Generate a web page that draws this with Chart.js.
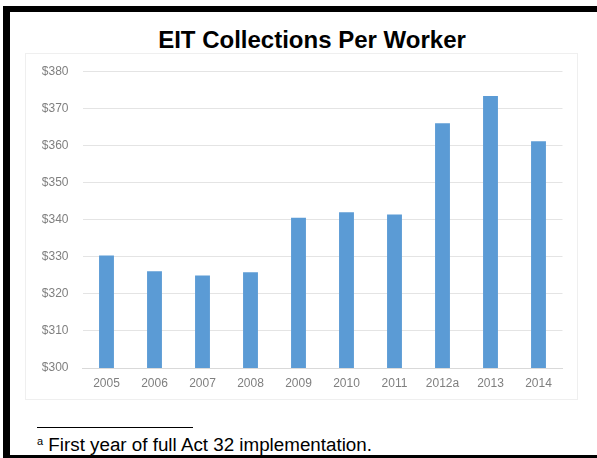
<!DOCTYPE html>
<html>
<head>
<meta charset="utf-8">
<script src="https://cdn.jsdelivr.net/npm/chart.js@4/dist/chart.umd.min.js"></script>
<style>
  html, body { margin: 0; padding: 0; background: #fff; width: 597px; height: 458px; overflow: hidden; }
  body { position: relative; font-family: "Liberation Sans", Arial, sans-serif; }
  #frame {
    position: absolute; left: 3px; top: 6px; width: 594px; height: 452px;
    box-sizing: border-box; border-top: 6px solid #000; border-left: 7px solid #000; border-bottom: 3px solid #000;
    border-right: none;
  }
  #title {
    position: absolute; left: 112px; top: 26px; width: 400px; text-align: center;
    font-size: 24px; line-height: 28px; font-weight: bold; color: #000; white-space: nowrap;
  }
  #box { position: absolute; left: 25px; top: 53px; width: 551px; height: 345px; border: 1px solid #efefef; }
  #wrap { position: absolute; left: 25px; top: 50px; width: 552px; height: 349px; }
  #rule { position: absolute; left: 37px; top: 427px; width: 156px; border-top: 1px solid #000; }
  #note { position: absolute; left: 37px; top: 431px; font-size: 18.8px; line-height: 20px; color: #000; white-space: nowrap; }
  #note sup { font-size: 11px; vertical-align: 6px; }
</style>
</head>
<body>
<div id="frame"></div>
<div id="title">EIT Collections Per Worker</div>
<div id="box"></div>
<div id="wrap"><canvas id="chart"></canvas></div>
<div id="rule"></div>
<div id="note"><sup>a</sup> First year of full Act 32 implementation.</div>
<script>
const years = ["2005", "2006", "2007", "2008", "2009", "2010", "2011", "2012a", "2013", "2014"];
const perWorker = [330.3, 326.1, 324.9, 325.8, 340.5, 342.0, 341.4, 366.0, 373.3, 361.1];
const yMin = 300;
const yMax = 380;
const yStep = 10;

const tickFont = { family: "'Liberation Sans', Arial, sans-serif", size: 12 };

new Chart(document.getElementById("chart"), {
  type: "bar",
  data: {
    labels: years,
    datasets: [{
      label: "EIT Collections Per Worker",
      data: perWorker,
      backgroundColor: "#5b9bd5",
      barPercentage: 0.31,
      categoryPercentage: 1
    }]
  },
  options: {
    responsive: true,
    maintainAspectRatio: false,
    animation: false,
    layout: { padding: { left: 0, right: 14.5, top: 14, bottom: 9 } },
    plugins: {
      legend: { display: false },
      tooltip: { enabled: false }
    },
    scales: {
      x: {
        grid: { display: false, drawTicks: false },
        border: { display: true, color: "#d9d9d9" },
        ticks: { color: "#7f7f7f", font: tickFont, padding: 8, maxRotation: 0 },
        afterFit: (scale) => { scale.height = 22; }
      },
      y: {
        min: yMin,
        max: yMax,
        grid: { color: "#e4e4e4", drawTicks: false },
        border: { display: false },
        ticks: {
          stepSize: yStep,
          color: "#7f7f7f",
          font: tickFont,
          padding: 14,
          callback: (v) => "$" + v
        },
        afterFit: (scale) => { scale.width = 57.5; }
      }
    }
  }
});
</script>
</body>
</html>
